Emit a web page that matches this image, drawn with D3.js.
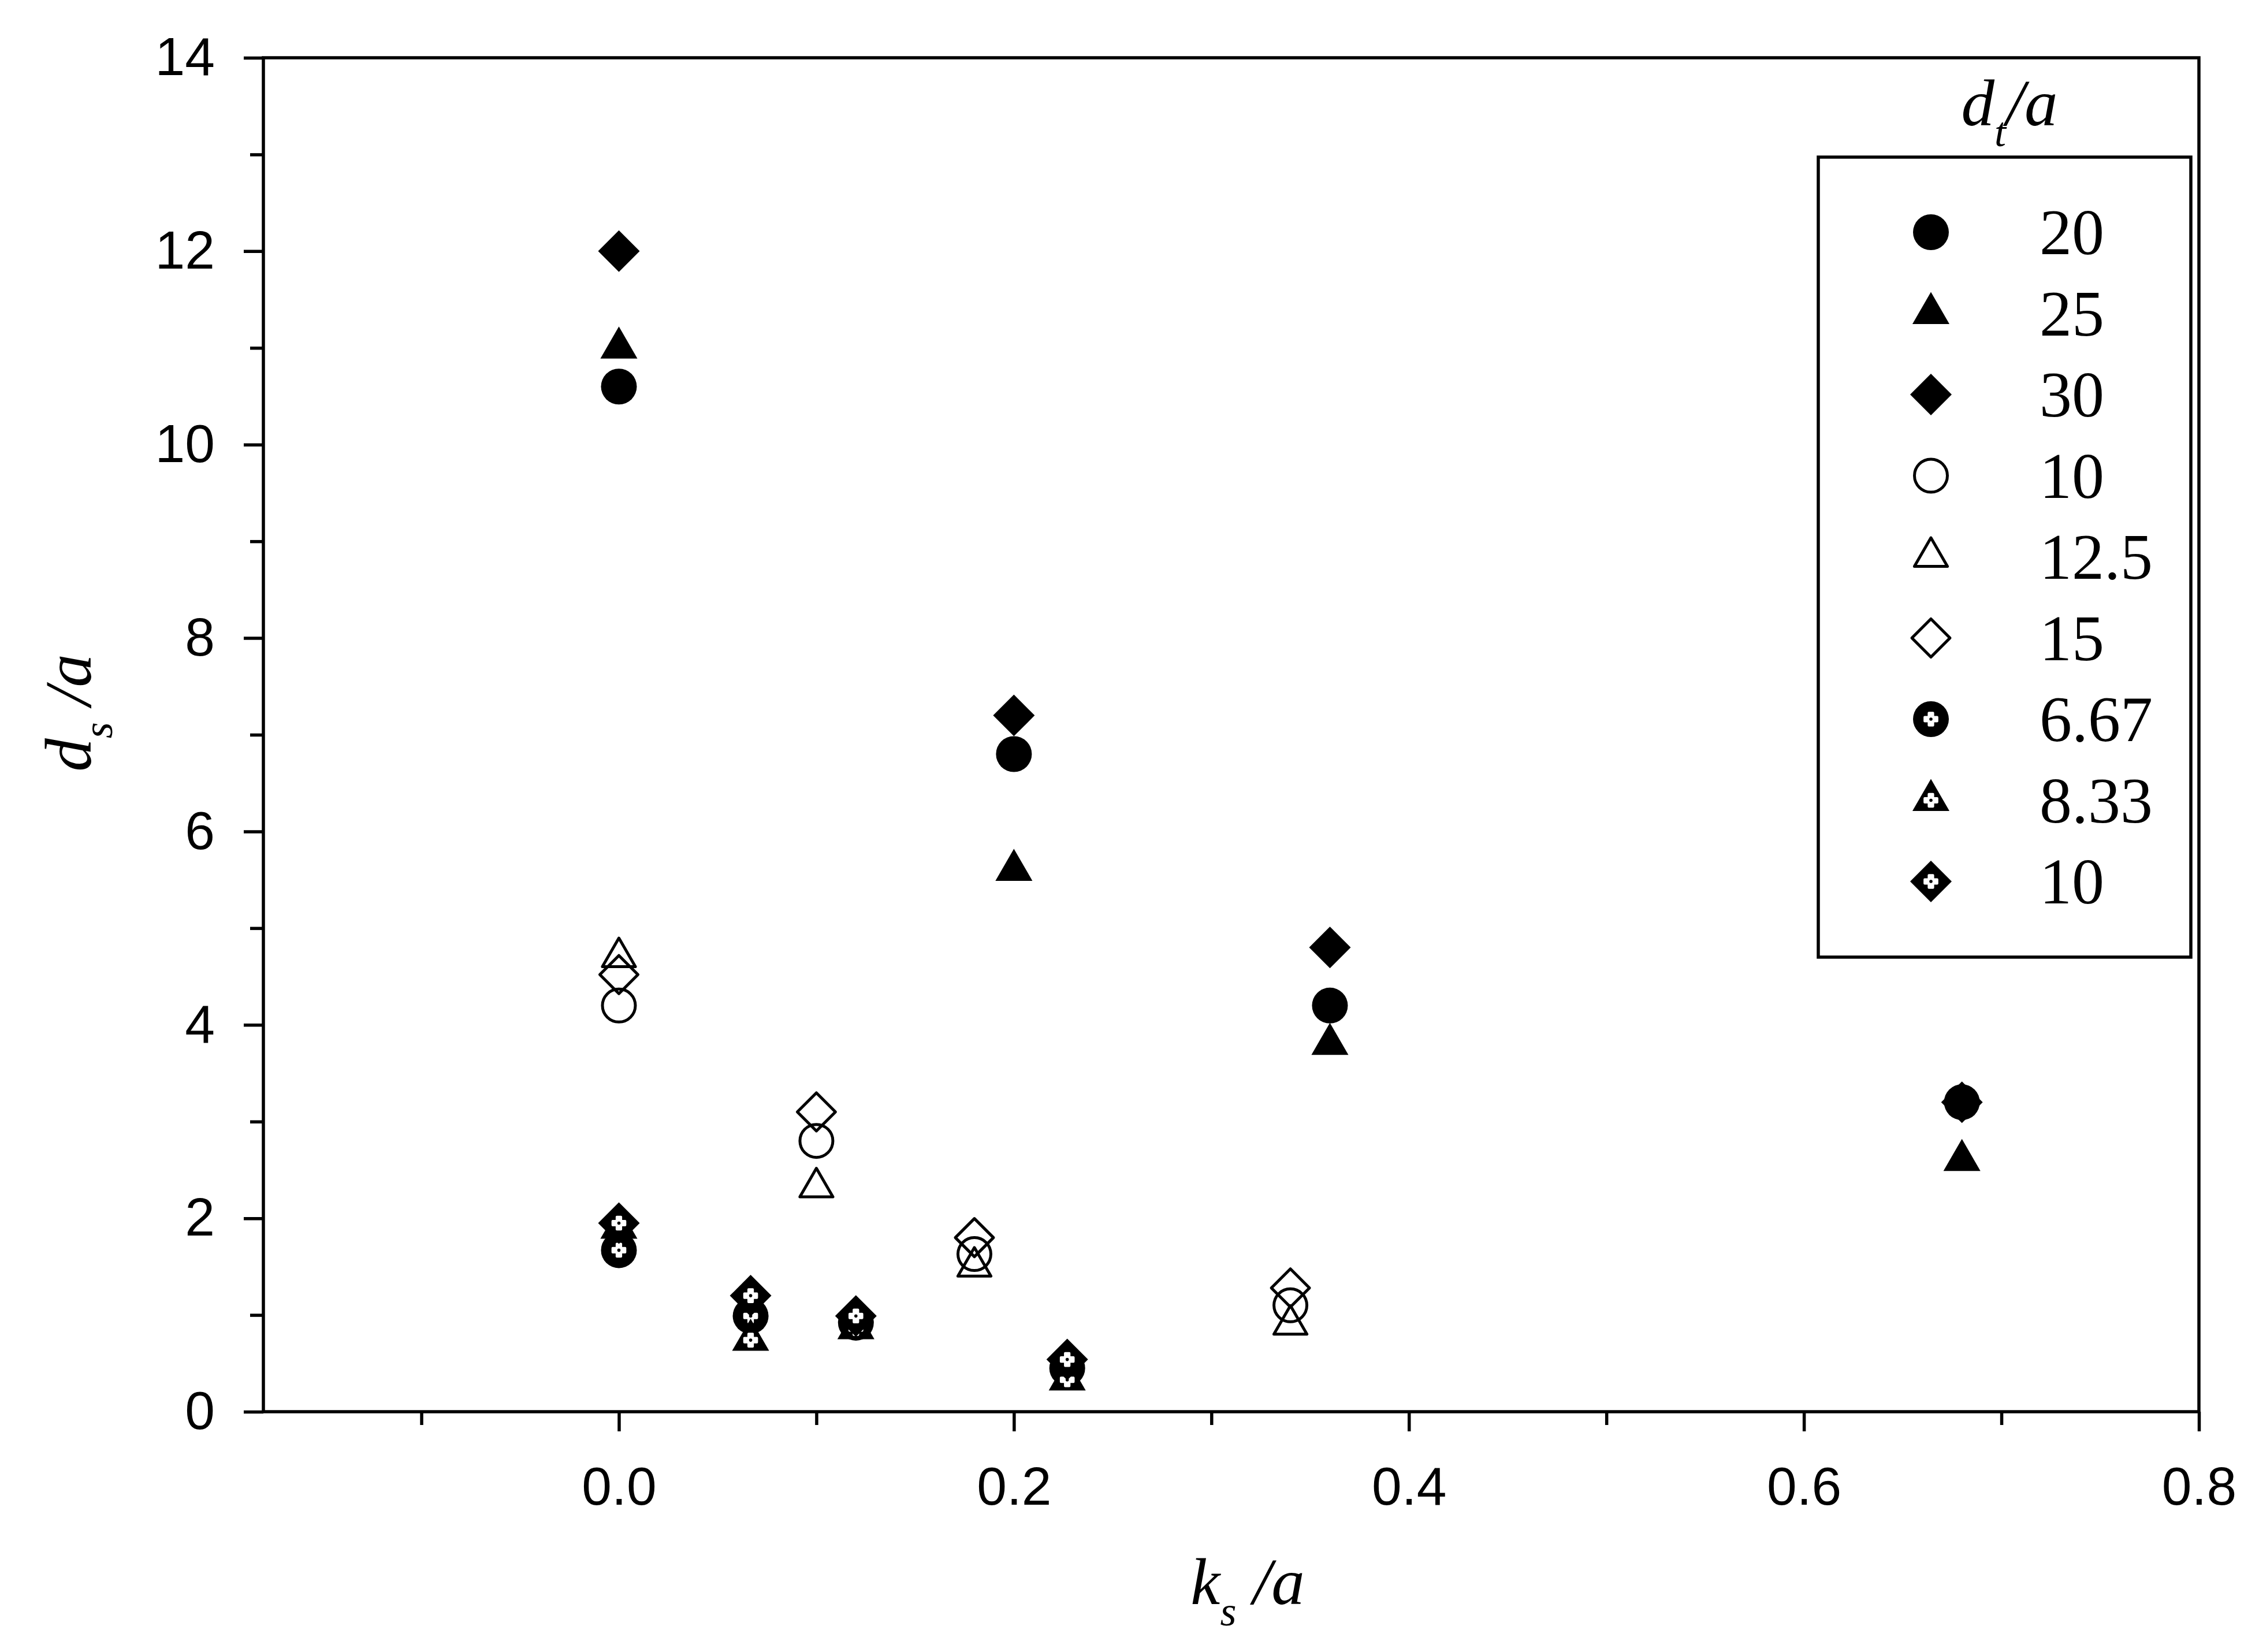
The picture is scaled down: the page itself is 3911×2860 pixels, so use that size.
<!DOCTYPE html>
<html>
<head>
<meta charset="utf-8">
<script src="https://cdn.jsdelivr.net/npm/d3@7"></script>
<style>
  html, body { margin: 0; padding: 0; background: #fff; }
  svg { display: block; }
</style>
</head>
<body>
<script>
// ---------------- DATA ----------------
const legendTitle = "d_t/a";
const seriesLabels = ["20", "25", "30", "10", "12.5", "15", "6.67", "8.33", "10"];

// d_t/a = 20 (filled circle)
const ks_20 = [0.0, 0.2, 0.36, 0.68];
const ds_20 = [10.6, 6.8, 4.2, 3.2];
// d_t/a = 25 (filled triangle)
const ks_25 = [0.0, 0.2, 0.36, 0.68];
const ds_25 = [11.0, 5.6, 3.8, 2.6];
// d_t/a = 30 (filled diamond)
const ks_30 = [0.0, 0.2, 0.36, 0.68];
const ds_30 = [12.0, 7.2, 4.8, 3.2];
// d_t/a = 10 (open circle)
const ks_10 = [0.0, 0.1, 0.18, 0.34];
const ds_10 = [4.2, 2.8, 1.63, 1.1];
// d_t/a = 12.5 (open triangle)
const ks_12_5 = [0.0, 0.1, 0.18, 0.34];
const ds_12_5 = [4.7, 2.32, 1.5, 0.9];
// d_t/a = 15 (open diamond)
const ks_15 = [0.0, 0.1, 0.18, 0.34];
const ds_15 = [4.52, 3.1, 1.8, 1.28];
// d_t/a = 6.67 (dotted circle)
const ks_6_67 = [0.0, 0.0667, 0.12, 0.227];
const ds_6_67 = [1.67, 0.99, 0.92, 0.45];
// d_t/a = 8.33 (dotted triangle)
const ks_8_33 = [0.0, 0.0667, 0.12, 0.227];
const ds_8_33 = [1.9, 0.74, 0.86, 0.33];
// d_t/a = 10 (dotted diamond)
const ks_10b = [0.0, 0.0667, 0.12, 0.227];
const ds_10b = [1.95, 1.2, 0.99, 0.54];

const xMajorTicks = [0.0, 0.2, 0.4, 0.6, 0.8];
const xMinorTicks = [-0.1, 0.1, 0.3, 0.5, 0.7];
const yMajorTicks = [0, 2, 4, 6, 8, 10, 12, 14];
const yMinorTicks = [1, 3, 5, 7, 9, 11, 13];
const xDomain = [-0.18, 0.8];
const yDomain = [0, 14];

// ---------------- LAYOUT / STYLE ----------------
const W = 3911, H = 2860;
const plot = { left: 456, right: 3807, top: 100, bottom: 2444 };
const sansFont = "'Liberation Sans', Arial, Helvetica, sans-serif";
const serifFont = "'Liberation Serif', 'Times New Roman', Times, serif";
const AXW = 5.5;

const diamondType = {
  draw(ctx, size) {
    const r = Math.sqrt(size / 2);
    ctx.moveTo(0, -r); ctx.lineTo(r, 0); ctx.lineTo(0, r); ctx.lineTo(-r, 0); ctx.closePath();
  }
};
const filledSize = { circle: Math.PI * 31 * 31, triangle: 3 * Math.sqrt(3) * 18.5 * 18.5, diamond: 2 * 36 * 36 };
const openSize = { circle: Math.PI * 28.5 * 28.5, triangle: 3 * Math.sqrt(3) * 16.5 * 16.5, diamond: 2 * 33 * 33 };
const shapeTypes = { circle: d3.symbolCircle, triangle: d3.symbolTriangle, diamond: diamondType };

const series = [
  { x: ks_20, y: ds_20, shape: "circle", style: "filled" },
  { x: ks_25, y: ds_25, shape: "triangle", style: "filled" },
  { x: ks_30, y: ds_30, shape: "diamond", style: "filled" },
  { x: ks_10, y: ds_10, shape: "circle", style: "open" },
  { x: ks_12_5, y: ds_12_5, shape: "triangle", style: "open" },
  { x: ks_15, y: ds_15, shape: "diamond", style: "open" },
  { x: ks_6_67, y: ds_6_67, shape: "circle", style: "dotted" },
  { x: ks_8_33, y: ds_8_33, shape: "triangle", style: "dotted" },
  { x: ks_10b, y: ds_10b, shape: "diamond", style: "dotted" }
].map((s, i) => ({ ...s, label: seriesLabels[i] }));

// ---------------- SCALES ----------------
const x = d3.scaleLinear().domain(xDomain).range([plot.left, plot.right]);
const y = d3.scaleLinear().domain(yDomain).range([plot.bottom, plot.top]);

const svg = d3.select("body").append("svg")
  .attr("width", W).attr("height", H)
  .attr("viewBox", `0 0 ${W} ${H}`);
svg.append("rect").attr("width", W).attr("height", H).attr("fill", "#fff");

// ---------------- AXES ----------------
function styleAxis(g) {
  g.select(".domain").remove();
  g.selectAll(".tick line").attr("stroke", "#000").attr("stroke-width", AXW);
  g.selectAll(".tick text").attr("fill", "#000").attr("font-family", sansFont).attr("font-size", 93);
}

svg.append("g")
  .attr("transform", `translate(0,${plot.bottom})`)
  .call(d3.axisBottom(x).tickValues(xMajorTicks).tickFormat(d3.format(".1f"))
    .tickSize(34).tickSizeOuter(0).tickPadding(61))
  .call(styleAxis);
svg.append("g")
  .attr("transform", `translate(0,${plot.bottom})`)
  .call(d3.axisBottom(x).tickValues(xMinorTicks).tickFormat("").tickSize(23).tickSizeOuter(0))
  .call(styleAxis);

svg.append("g")
  .attr("transform", `translate(${plot.left},0)`)
  .call(d3.axisLeft(y).tickValues(yMajorTicks).tickFormat(d3.format("d"))
    .tickSize(34).tickSizeOuter(0).tickPadding(50))
  .call(styleAxis);
svg.append("g")
  .attr("transform", `translate(${plot.left},0)`)
  .call(d3.axisLeft(y).tickValues(yMinorTicks).tickFormat("").tickSize(23).tickSizeOuter(0))
  .call(styleAxis);

// plot frame
svg.append("rect")
  .attr("x", plot.left).attr("y", plot.top)
  .attr("width", plot.right - plot.left).attr("height", plot.bottom - plot.top)
  .attr("fill", "none").attr("stroke", "#000").attr("stroke-width", AXW);

// ---------------- MARKERS ----------------
function drawMarker(g, shape, style) {
  const type = shapeTypes[shape];
  if (style === "open") {
    g.append("path")
      .attr("d", d3.symbol().type(type).size(openSize[shape])())
      .attr("fill", "none").attr("stroke", "#000").attr("stroke-width", 5)
      .attr("stroke-linejoin", "round");
  } else {
    g.append("path")
      .attr("d", d3.symbol().type(type).size(filledSize[shape])())
      .attr("fill", "#000");
    if (style === "dotted") {
      g.append("path")
        .attr("d", d3.symbol().type(d3.symbolCross).size(260)())
        .attr("fill", "#fff").attr("stroke", "#fff").attr("stroke-width", 4)
        .attr("stroke-linejoin", "round");
      g.append("circle").attr("r", 2.8).attr("fill", "#000");
    }
  }
}

const pointsLayer = svg.append("g");
series.forEach(s => {
  const pts = s.x.map((xv, i) => ({ x: xv, y: s.y[i] }));
  pointsLayer.append("g").selectAll("g")
    .data(pts).join("g")
    .attr("transform", d => `translate(${x(d.x)},${y(d.y)})`)
    .each(function () { drawMarker(d3.select(this), s.shape, s.style); });
});

// ---------------- AXIS TITLES ----------------
const xt = svg.append("text")
  .attr("x", 2160).attr("y", 2777)
  .attr("text-anchor", "middle")
  .attr("font-family", serifFont).attr("font-style", "italic")
  .attr("font-size", 115).attr("fill", "#000");
xt.append("tspan").text("k");
xt.append("tspan").attr("dy", 37).attr("font-size", 72).text("s");
xt.append("tspan").attr("dy", -37).text("\u00a0/a");

const yt = svg.append("text")
  .attr("transform", "translate(157,1234) rotate(-90)")
  .attr("text-anchor", "middle")
  .attr("font-family", serifFont).attr("font-style", "italic")
  .attr("font-size", 115).attr("fill", "#000");
yt.append("tspan").text("d");
yt.append("tspan").attr("dy", 37).attr("font-size", 72).text("s");
yt.append("tspan").attr("dy", -37).text("\u00a0/a");

// ---------------- LEGEND ----------------
const lg = { left: 3148, right: 3793, top: 272, bottom: 1657, symX: 3343, textX: 3531, row0: 402, step: 140.5 };
const lt = svg.append("text")
  .attr("x", 3479).attr("y", 217)
  .attr("text-anchor", "middle")
  .attr("font-family", serifFont).attr("font-style", "italic")
  .attr("font-size", 115).attr("fill", "#000");
const [ltMain, ltRest] = legendTitle.split("_");
lt.append("tspan").text(ltMain);
lt.append("tspan").attr("dy", 36).attr("font-size", 72).text(ltRest.split("/")[0]);
lt.append("tspan").attr("dy", -36).text("/" + ltRest.split("/")[1]);

svg.append("rect")
  .attr("x", lg.left).attr("y", lg.top)
  .attr("width", lg.right - lg.left).attr("height", lg.bottom - lg.top)
  .attr("fill", "#fff").attr("stroke", "#000").attr("stroke-width", AXW);

const rows = svg.append("g").selectAll("g")
  .data(series).join("g")
  .attr("transform", (d, i) => `translate(0,${lg.row0 + i * lg.step})`);
rows.each(function (d) {
  const g = d3.select(this).append("g").attr("transform", `translate(${lg.symX},0)`);
  drawMarker(g, d.shape, d.style);
});
rows.append("text")
  .attr("x", lg.textX).attr("y", 38)
  .attr("font-family", serifFont).attr("font-size", 112).attr("fill", "#000")
  .text(d => d.label);
</script>
</body>
</html>
